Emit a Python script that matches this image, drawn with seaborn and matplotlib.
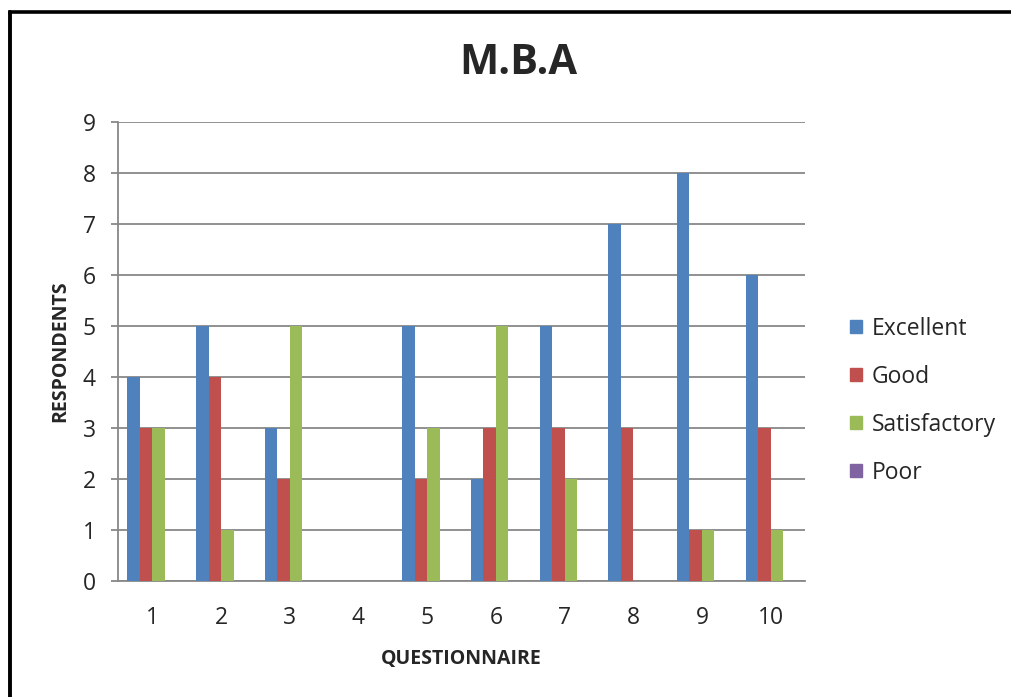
import pandas as pd
import matplotlib.pyplot as plt
import matplotlib.patches as mpatches
from matplotlib.lines import Line2D
import seaborn as sns

# данные по анкетам (ответы респондентов)
questions = ['1', '2', '3', '4', '5', '6', '7', '8', '9', '10']
excellent = [4, 5, 3, 0, 5, 2, 5, 7, 8, 6]
good = [3, 4, 2, 0, 2, 3, 3, 3, 1, 3]
satisfactory = [3, 1, 5, 0, 3, 5, 2, 0, 1, 1]
poor = [0, 0, 0, 0, 0, 0, 0, 0, 0, 0]
grades = ['Excellent', 'Good', 'Satisfactory', 'Poor']
colors = ['#4F81BD', '#C0504D', '#9BBB59', '#8064A2']

series = {'Excellent': excellent, 'Good': good,
          'Satisfactory': satisfactory, 'Poor': poor}
rows = []
for g in grades:
    for q, v in zip(questions, series[g]):
        rows.append({'Q': q, 'Grade': g, 'N': v})
df = pd.DataFrame(rows)

sns.set_style('white')
plt.rcParams['font.family'] = ['Open Sans', 'DejaVu Sans']

fig = plt.figure(figsize=(10.12, 6.97), dpi=100)
ax = fig.add_axes([118 / 1012, 1 - 581 / 697, 687 / 1012, 459 / 697])

sns.barplot(data=df, x='Q', y='N', hue='Grade', order=questions,
            hue_order=grades, palette=colors, width=0.728,
            saturation=1, linewidth=0, ax=ax, zorder=3, legend=False)

ax.set_ylim(0, 9)
ax.set_xlim(-0.5, 9.5)
ax.set_yticks(range(10))
ax.yaxis.grid(True, color='#888888', linewidth=1.3, zorder=0)
ax.set_axisbelow(True)
for s in ['top', 'right']:
    ax.spines[s].set_visible(False)
for s in ['left', 'bottom']:
    ax.spines[s].set_color('#888888')
    ax.spines[s].set_linewidth(1.3)
ax.tick_params(axis='y', length=5, width=1.3, color='#888888',
               labelsize=16.5, pad=11, left=True)
ax.tick_params(axis='x', length=0, labelsize=16.5, pad=18)

ax.set_xlabel('QUESTIONNAIRE', fontsize=14, fontweight='bold', labelpad=14)
ax.set_ylabel('RESPONDENTS', fontsize=14, fontweight='bold', labelpad=9)
fig.text(518 / 1012, 1 - 63 / 697, 'M.B.A', fontsize=30, fontweight='bold',
         ha='center', va='center')

handles = [mpatches.Patch(color=c, label=g) for g, c in zip(grades, colors)]
ax.legend(handles=handles, frameon=False, fontsize=16.5,
          loc='center left', bbox_to_anchor=(1.035, 0.393),
          handlelength=0.52, handleheight=0.52, handletextpad=0.44,
          labelspacing=1.05)

# рамка вокруг картинки (видны только левая и верхняя стороны)
fig.add_artist(Line2D([10 / 1012, 10 / 1012], [0, 1 - 11.5 / 697],
                      transform=fig.transFigure, color='black', linewidth=2.8))
fig.add_artist(Line2D([10 / 1012, 1], [1 - 11.5 / 697, 1 - 11.5 / 697],
                      transform=fig.transFigure, color='black', linewidth=2.6,
                      solid_capstyle='projecting'))

plt.savefig('out.png', dpi=100)
